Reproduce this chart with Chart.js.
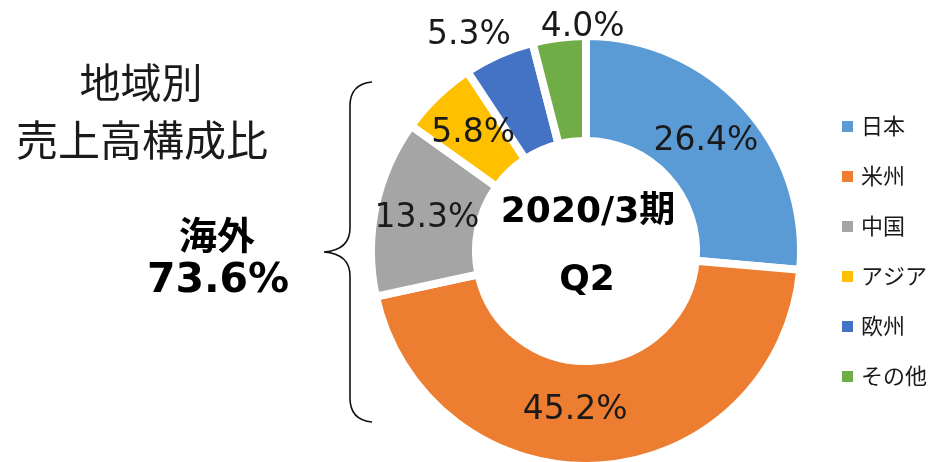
<!DOCTYPE html>
<html>
<head>
<meta charset="utf-8">
<script src="https://cdn.jsdelivr.net/npm/chart.js@4"></script>
<style>
  html, body { margin: 0; padding: 0; background: #fff; }
  #wrap { width: 936px; height: 462px; position: relative; }
</style>
</head>
<body>
<div id="wrap"><canvas id="regionChart" width="936" height="462"></canvas></div>
<script>
// data (percent of sales, 2020/3 Q2)
const regions = ['日本', '米州', '中国', 'アジア', '欧州', 'その他'];
const shares = [26.4, 45.2, 13.3, 5.8, 5.3, 4.0];
const overseasShare = '73.6%';
const centerLines = ['2020/3期', 'Q2'];

const sliceColors = ['#5B9BD5', '#ED7D31', '#A5A5A5', '#FFC000', '#4472C4', '#70AD47'];
// manual label nudges (Excel labels were dragged around a bit)
const labelNudge = [[0, 0], [-21, -3], [0, 0], [0, 0], [-51, -67], [17, -62]];

const numFont = "'DejaVu Sans', 'Noto Sans CJK JP', sans-serif";
const jpFont = "'Noto Sans CJK JP', 'DejaVu Sans', sans-serif";

// percent labels on each slice
const sliceLabels = {
  id: 'sliceLabels',
  afterDatasetsDraw(chart) {
    const ctx = chart.ctx;
    const meta = chart.getDatasetMeta(0);
    ctx.save();
    ctx.font = '33px ' + numFont;
    ctx.fillStyle = '#1a1a1a';
    ctx.textAlign = 'center';
    ctx.textBaseline = 'middle';
    meta.data.forEach((arc, i) => {
      const p = arc.tooltipPosition();
      const n = labelNudge[i];
      ctx.fillText(shares[i].toFixed(1) + '%', p.x + n[0], p.y + n[1]);
    });
    // centre text
    const arc0 = meta.data[0];
    ctx.font = 'bold 36px ' + numFont;
    ctx.fillStyle = '#000';
    ctx.fillText(centerLines[0], arc0.x + 2, arc0.y - 38);
    ctx.fillText(centerLines[1], arc0.x + 1, arc0.y + 30);
    ctx.restore();
  }
};

// legend on the right + titles and brace on the left
const sideDecor = {
  id: 'sideDecor',
  afterDraw(chart) {
    const ctx = chart.ctx;
    const ds = chart.data.datasets[0];
    ctx.save();
    ctx.textBaseline = 'middle';
    chart.data.labels.forEach((lab, i) => {
      const y = 126 + i * 50;
      ctx.fillStyle = ds.backgroundColor[i];
      ctx.fillRect(842, y - 5, 11, 11);
      ctx.fillStyle = '#1a1a1a';
      ctx.font = '22px ' + jpFont;
      ctx.textAlign = 'left';
      ctx.fillText(lab, 861, y);
    });

    ctx.textAlign = 'center';
    ctx.fillStyle = '#1a1a1a';
    ctx.font = '41px ' + jpFont;
    ctx.fillText('地域別', 141, 82);
    ctx.font = '42px ' + jpFont;
    ctx.fillText('売上高構成比', 142, 140);

    ctx.fillStyle = '#000';
    ctx.font = 'bold 38px ' + jpFont;
    ctx.fillText('海外', 217, 235);
    ctx.font = 'bold 41px ' + numFont;
    ctx.fillText(overseasShare, 218, 281);

    // curly brace
    ctx.strokeStyle = '#111';
    ctx.lineWidth = 1.6;
    ctx.beginPath();
    ctx.moveTo(372, 82);
    ctx.quadraticCurveTo(350, 84, 350, 106);
    ctx.lineTo(350, 228);
    ctx.quadraticCurveTo(350, 250, 324, 252);
    ctx.quadraticCurveTo(350, 254, 350, 276);
    ctx.lineTo(350, 398);
    ctx.quadraticCurveTo(350, 420, 372, 422);
    ctx.stroke();
    ctx.restore();
  }
};

new Chart(document.getElementById('regionChart'), {
  type: 'doughnut',
  data: {
    labels: regions,
    datasets: [{
      data: shares,
      backgroundColor: sliceColors,
      borderColor: '#ffffff',
      borderWidth: 8
    }]
  },
  options: {
    responsive: false,
    animation: false,
    radius: 215,
    cutout: 106,
    layout: { padding: { left: 374, right: 138, top: 40, bottom: 0 } },
    plugins: {
      legend: { display: false },
      tooltip: { enabled: false }
    }
  },
  plugins: [sliceLabels, sideDecor]
});
</script>
</body>
</html>
